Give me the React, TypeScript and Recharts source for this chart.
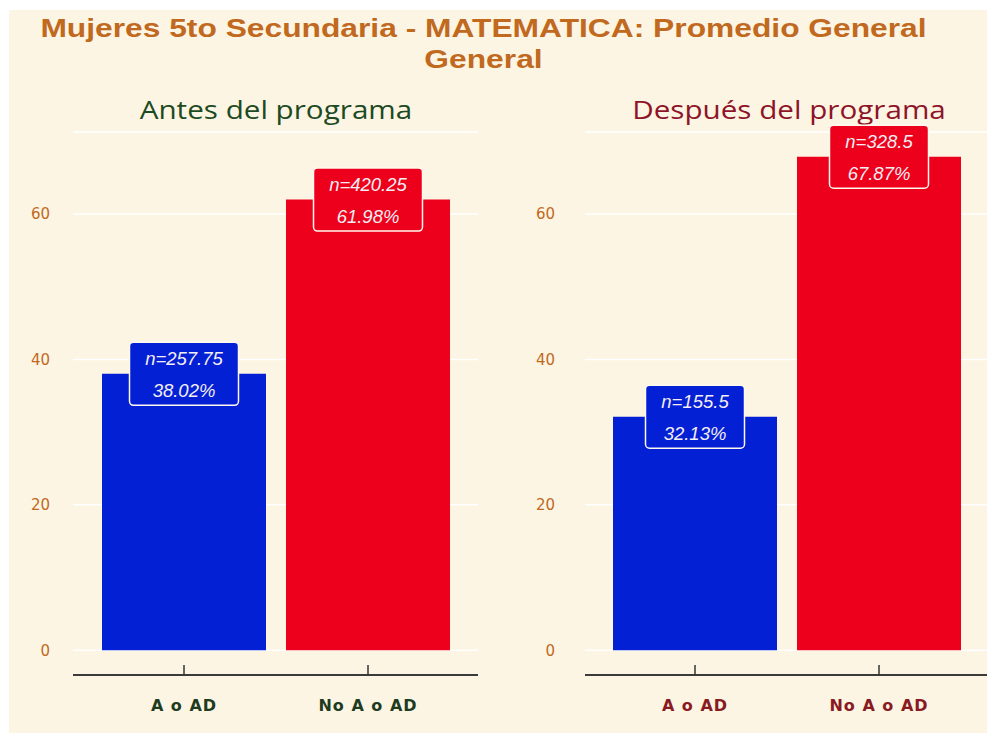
import { BarChart, Bar, XAxis, YAxis, CartesianGrid, Cell, LabelList } from "recharts";

const categories = ["A o AD", "No A o AD"];
const antesPct = [38.02, 61.98];
const antesN = [257.75, 420.25];
const despuesPct = [32.13, 67.87];
const despuesN = [155.5, 328.5];
const yTicks = [0, 20, 40, 60];

const barColors = ["#0320d4", "#ec001b"];
const bg = "#fdf5e3";
const orange = "#c0691f";

const yMax = Math.max(...antesPct, ...despuesPct);
const yDomain = [-yMax * 0.05, yMax * 1.05];

const mkData = (pct: number[], n: number[]) =>
  categories.map((c, i) => ({ cat: c, pct: pct[i], n: n[i] }));

// rough italic width for the label box
const textW = (s: string) =>
  s.split("").reduce((w, ch) => w + (ch === "." ? 5 : ch === "%" ? 16 : 10), 0);

function BoxLabel(props: any, ns: number[]) {
  const { x, y, width, value, index } = props;
  const cx = x + width / 2;
  const l1 = `n=${ns[index]}`;
  const l2 = `${value.toFixed(2)}%`;
  const w = Math.max(textW(l1), textW(l2)) + 34;
  const h = 63;
  return (
    <g>
      <rect
        x={cx - w / 2}
        y={y - h / 2}
        width={w}
        height={h}
        rx={4}
        fill={barColors[index]}
        stroke="#fff8ee"
        strokeWidth={1.5}
      />
      <text x={cx} y={y - 15} textAnchor="middle" dominantBaseline="central" fill="#f4eef4" fontSize={18.5} fontStyle="italic" fontFamily="Liberation Sans, Arial">
        {l1}
      </text>
      <text x={cx} y={y + 17} textAnchor="middle" dominantBaseline="central" fill="#f4eef4" fontSize={18.5} fontStyle="italic" fontFamily="Liberation Sans, Arial">
        {l2}
      </text>
    </g>
  );
}

function XTick(props: any, color: string) {
  const { x, y, payload } = props;
  return (
    <g>
      <line x1={x} x2={x} y1={y - 10} y2={y} stroke="#333" strokeWidth={1.5} />
      <text x={x} y={y + 36} textAnchor="middle" fill={color} fontSize={16} fontWeight={600} fontFamily="DejaVu Sans" letterSpacing={1}>
        {payload.value}
      </text>
    </g>
  );
}

function Panel({
  pct,
  n,
  width,
  rightM,
  yAxisW,
  tickMargin,
  padL,
  padR,
  color,
}: {
  pct: number[];
  n: number[];
  width: number;
  rightM: number;
  yAxisW: number;
  tickMargin: number;
  padL: number;
  padR: number;
  color: string;
}) {
  return (
    <BarChart
      width={width}
      height={733}
      data={mkData(pct, n)}
      margin={{ top: 132, right: rightM, left: 0, bottom: 0 }}
      barSize={164}
    >
      <CartesianGrid vertical={false} stroke="#ffffff" strokeWidth={1.5} />
      <XAxis
        dataKey="cat"
        height={58}
        padding={{ left: padL, right: padR }}
        axisLine={{ stroke: "#3a3a3a", strokeWidth: 2 }}
        tickLine={false}
        tickSize={0}
        tickMargin={0}
        tick={(p: any) => XTick(p, color)}
        interval={0}
      />
      <YAxis
        type="number"
        domain={yDomain}
        allowDataOverflow
        ticks={yTicks}
        width={yAxisW}
        axisLine={false}
        tickLine={false}
        tickMargin={tickMargin}
        tick={{ fill: orange, fontSize: 15, fontFamily: "DejaVu Sans" }}
      />
      <Bar dataKey="pct" isAnimationActive={false}>
        {pct.map((_, i) => (
          <Cell key={i} fill={barColors[i]} />
        ))}
        <LabelList dataKey="pct" content={(p: any) => BoxLabel(p, n)} />
      </Bar>
    </BarChart>
  );
}

const subStyle = {
  position: "absolute" as const,
  top: 91,
  width: 400,
  textAlign: "center" as const,
  fontFamily: "Open Sans",
  fontSize: 26,
  transform: "scaleX(1.14)",
};

export default function App() {
  return (
    <div style={{ position: "fixed", left: 0, top: 0, width: 987, height: 733, background: "#ffffff", overflow: "hidden" }}>
      <div style={{ position: "absolute", left: 9, top: 10, right: 0, bottom: 0, background: bg }} />
      <div
        style={{
          position: "absolute",
          left: 0,
          top: 13,
          width: 967,
          textAlign: "center",
          fontFamily: "Liberation Sans, Arial",
          fontWeight: "bold",
          fontSize: 25,
          lineHeight: "31px",
          color: orange,
          transform: "scaleX(1.27)",
        }}
      >
        Mujeres 5to Secundaria - MATEMATICA: Promedio General
        <br />
        General
      </div>
      <div style={{ ...subStyle, left: 76, color: "#1c4a22" }}>Antes del programa</div>
      <div style={{ ...subStyle, left: 589, color: "#8e1428" }}>Después del programa</div>
      <div style={{ position: "absolute", left: 0, top: 0 }}>
        <Panel pct={antesPct} n={antesN} width={490} rightM={12} yAxisW={73} tickMargin={17} padL={19} padR={18} color="#1f3b1f" />
      </div>
      <div style={{ position: "absolute", left: 490, top: 0 }}>
        <Panel pct={despuesPct} n={despuesN} width={497} rightM={0} yAxisW={95} tickMargin={24} padL={18} padR={16} color="#8a1a22" />
      </div>
    </div>
  );
}
